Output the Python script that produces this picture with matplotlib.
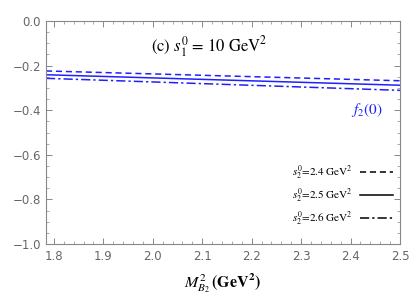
import matplotlib
matplotlib.use("Agg")
import matplotlib.pyplot as plt
import numpy as np
from matplotlib.ticker import MultipleLocator
from matplotlib.lines import Line2D

plt.rcParams['mathtext.fontset'] = 'stix'

x_ends = [1.784, 2.5]
y_24 = [-0.224, -0.268]
y_25 = [-0.241, -0.288]
y_26 = [-0.257, -0.311]
labels = [r"$s_2^0$=2.4 GeV$^2$", r"$s_2^0$=2.5 GeV$^2$", r"$s_2^0$=2.6 GeV$^2$"]
xticks = [1.8, 1.9, 2.0, 2.1, 2.2, 2.3, 2.4, 2.5]
yticks = [-1.0, -0.8, -0.6, -0.4, -0.2, 0.0]

fig = plt.figure(figsize=(4.09, 2.94), dpi=100)
ax = fig.add_axes([46/409, 1-244/294, (400-46)/409, (244-21)/294])

blue = '#2020ff'
dash = (0, (4, 2.5))
dashdot = (0, (6, 2, 1.5, 2))
ax.plot(x_ends, y_24, color=blue, lw=1.1, ls=dash)
ax.plot(x_ends, y_25, color=blue, lw=1.1, ls='-')
ax.plot(x_ends, y_26, color=blue, lw=1.1, ls=dashdot)

ax.set_xlim(1.784, 2.5)
ax.set_ylim(-1.0, 0.0)
ax.set_xticks(xticks)
ax.set_xticklabels([f"{v:.1f}" for v in xticks])
ax.set_yticks(yticks)
ax.set_yticklabels(["0.0" if v == 0 else f"{v:.1f}".replace('-', '\u2212') for v in yticks])
ax.xaxis.set_minor_locator(MultipleLocator(0.02))
ax.yaxis.set_minor_locator(MultipleLocator(0.05))

gray = '#888888'
for s in ax.spines.values():
    s.set_color(gray)
    s.set_linewidth(0.8)
ax.tick_params(which='both', direction='in', top=True, right=True, color=gray,
               labelcolor='#666666', labelsize=8.5)
ax.tick_params(which='major', length=4, width=0.7)
ax.tick_params(which='minor', length=2, width=0.5)
ax.tick_params(axis='x', pad=4)

ax.text(0.46, 0.885, r"(c) $s_1^0$ = 10 GeV$^2$", transform=ax.transAxes,
        ha='center', va='center', fontsize=12, family='STIXGeneral')
ax.text(0.905, 0.6, r"$f_2(0)$", transform=ax.transAxes, ha='center', va='center',
        fontsize=11, color=blue)

ax.set_xlabel(r"$\boldsymbol{M_{B_2}^2}\,\mathbf{(GeV^2)}$", fontsize=11.5, labelpad=6)

handles = [Line2D([0], [0], color='black', lw=1.1, ls=dash),
           Line2D([0], [0], color='black', lw=1.1, ls='-'),
           Line2D([0], [0], color='black', lw=1.1, ls=dashdot)]
leg = ax.legend(handles, labels, loc='lower right', frameon=False, fontsize=8,
                markerfirst=False, handlelength=3.0, labelspacing=0.45,
                bbox_to_anchor=(1.0, 0.04), handletextpad=0.7, borderaxespad=0.2)
for t in leg.get_texts():
    t.set_family('STIXGeneral')

fig.savefig("out.png", dpi=100)
